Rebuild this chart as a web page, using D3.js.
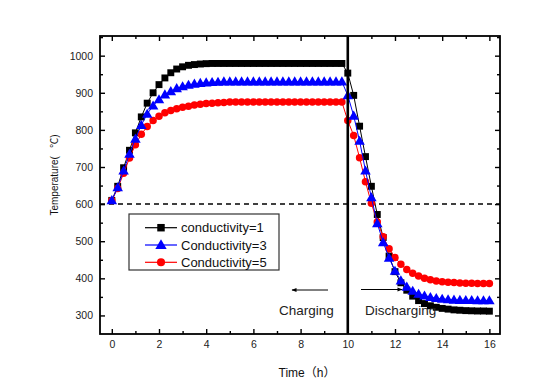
<!DOCTYPE html>
<html>
<head>
<meta charset="utf-8">
<script src="https://cdn.jsdelivr.net/npm/d3@7"></script>
<style>
html,body{margin:0;padding:0;background:#fff;}
svg{display:block;font-family:"Liberation Sans",Arial,"Noto Sans CJK SC",sans-serif;}
</style>
</head>
<body>
<svg id="chart" width="558" height="391"></svg>
<script>
// ---- data ----
const times = [0,0.25,0.5,0.75,1,1.25,1.5,1.75,2,2.25,2.5,2.75,3,3.25,3.5,3.75,4,4.25,4.5,4.75,
  5,5.25,5.5,5.75,6,6.25,6.5,6.75,7,7.25,7.5,7.75,8,8.25,8.5,8.75,9,9.25,9.5,9.75,
  10,10.25,10.5,10.75,11,11.25,11.5,11.75,12,12.25,12.5,12.75,13,13.25,13.5,13.75,14,14.25,14.5,14.75,
  15,15.25,15.5,15.75,16];
const cond1 = [610,648,698,745,792,835,872,900,922,940,954,964,970,974,976,977.5,978.5,979,979,979,
  979,979,979,979,979,979,979,979,979,979,979,979,979,979,979,979,979,979,979,979,
  953,893,810,728,648,572,510,460,418,388,368,352,340,332,326,322,319,317,315,314,
  313,312.5,312,312,311.5];
const cond3 = [610,645,690,735,776,813,843,865,882,895,904,912,917,921,924,926,927.5,928.5,929,930,
  930,930,930,930,930,930,930,930,930,930,930,930,930,930,930,930,930,930,930,930,
  893,838,770,690,618,548,497,455,420,394,377,366,358,353,349,346.5,344.5,343,342,341.5,
  341,341,340.5,340.5,340.5];
const cond5 = [610,642,683,724,760,788,809,825,837,846,852,857,861,864,867,869,871,872,873,874,
  875,875,875,875,875,875,875,875,875,875,875,875,875,875,875,875,875,875,875,875,
  825,785,725,660,602,552,512,480,456,438,424,414,406,400,396,393,391,389.5,388.5,387.5,
  387,386.5,386,386,386];
const seriesNames = ["conductivity=1","Conductivity=3","Conductivity=5"];
const xTicks = [0,2,4,6,8,10,12,14,16];
const xMinor = [1,3,5,7,9,11,13,15];
const yTicks = [300,400,500,600,700,800,900,1000];
const yMinor = [350,450,550,650,750,850,950,1050];
const thresholdTemp = 600;
const switchTime = 10;

// ---- setup ----
const svg = d3.select("#chart");
const x = d3.scaleLinear().domain([-0.5,16.45]).range([100,500]);
const y = d3.scaleLinear().domain([250,1053]).range([334,36]);

const series = [
  {name:seriesNames[0], vals:cond1, color:"#000000", shape:"square"},
  {name:seriesNames[2], vals:cond5, color:"#ff0000", shape:"circle"},
  {name:seriesNames[1], vals:cond3, color:"#0000ff", shape:"triangle"}
];
const symType = {square:d3.symbolSquare, circle:d3.symbolCircle, triangle:d3.symbolTriangle};
const symSize = {square:48, circle:44, triangle:48};

// dashed line at 600
svg.append("line")
  .attr("x1",x.range()[0]).attr("x2",x.range()[1])
  .attr("y1",y(thresholdTemp)).attr("y2",y(thresholdTemp))
  .attr("stroke","#000").attr("stroke-width",1.5).attr("stroke-dasharray","5,4");

// series
const line = d3.line().x((d,i)=>x(times[i])).y(d=>y(d));
series.forEach(s=>{
  const g = svg.append("g");
  g.append("path").datum(s.vals).attr("d",line)
    .attr("fill","none").attr("stroke",s.color).attr("stroke-width",1);
  g.selectAll("path.m").data(s.vals).enter().append("path").attr("class","m")
    .attr("transform",(d,i)=>`translate(${x(times[i])},${y(d) + (s.shape==="triangle"?0.8:0)})`)
    .attr("d",d3.symbol().type(symType[s.shape]).size(symSize[s.shape]))
    .attr("fill",s.color);
});

// vertical line at t=10
svg.append("line")
  .attr("x1",x(switchTime)).attr("x2",x(switchTime))
  .attr("y1",y.range()[1]).attr("y2",y.range()[0])
  .attr("stroke","#000").attr("stroke-width",2.6);

// axes
const fontTick = g=>g.selectAll("text").attr("font-size","10.5px").attr("fill","#222")
  .attr("font-family","'Liberation Sans',Arial,sans-serif");
const bottom = svg.append("g").attr("transform",`translate(0,${y.range()[0]})`)
  .call(d3.axisBottom(x).tickValues(xTicks).tickSize(-5).tickPadding(6.5).tickFormat(d3.format("d")));
bottom.call(fontTick);
svg.append("g").attr("transform",`translate(0,${y.range()[0]})`)
  .call(d3.axisBottom(x).tickValues(xMinor).tickSize(-3).tickFormat(""));
svg.append("g").attr("transform",`translate(0,${y.range()[1]})`)
  .call(d3.axisTop(x).tickValues(xTicks).tickSize(-5).tickFormat(""));
svg.append("g").attr("transform",`translate(0,${y.range()[1]})`)
  .call(d3.axisTop(x).tickValues(xMinor).tickSize(-3).tickFormat(""));
const left = svg.append("g").attr("transform",`translate(${x.range()[0]},0)`)
  .call(d3.axisLeft(y).tickValues(yTicks).tickSize(-5).tickPadding(7).tickFormat(d3.format("d")));
left.call(fontTick);
svg.append("g").attr("transform",`translate(${x.range()[0]},0)`)
  .call(d3.axisLeft(y).tickValues(yMinor.filter(v=>v<1053)).tickSize(-3).tickFormat(""));
svg.append("g").attr("transform",`translate(${x.range()[1]},0)`)
  .call(d3.axisRight(y).tickValues(yTicks).tickSize(-5).tickFormat(""));
svg.append("g").attr("transform",`translate(${x.range()[1]},0)`)
  .call(d3.axisRight(y).tickValues(yMinor.filter(v=>v<1053)).tickSize(-3).tickFormat(""));
svg.selectAll(".domain").remove();
svg.selectAll(".tick line").attr("stroke","#000").attr("stroke-width",1.4);

// frame
svg.append("rect")
  .attr("x",x.range()[0]).attr("y",y.range()[1])
  .attr("width",x.range()[1]-x.range()[0]).attr("height",y.range()[0]-y.range()[1])
  .attr("fill","none").attr("stroke","#000").attr("stroke-width",1.8);

// axis titles
svg.append("text").attr("x",307).attr("y",377).attr("text-anchor","middle")
  .attr("font-size","12px").attr("fill","#111").text("Time（h）");
svg.append("text").attr("transform","translate(58,175) rotate(-90)").attr("text-anchor","middle")
  .attr("font-size","10px").attr("fill","#111").style("white-space","pre").text("Temperature(   ℃)");

// legend
const lg = svg.append("g");
lg.append("rect").attr("x",129).attr("y",214).attr("width",150).attr("height",56)
  .attr("fill","#fff").attr("stroke","#333").attr("stroke-width",1.2);
const legendItems = [series[0], series[2], series[1]];
legendItems.forEach((s,i)=>{
  const yy = 227.7 + i*17.3;
  lg.append("line").attr("x1",145).attr("x2",177).attr("y1",yy).attr("y2",yy)
    .attr("stroke",s.color).attr("stroke-width",1.2);
  lg.append("path").attr("transform",`translate(161,${yy + (s.shape==="triangle"?0.8:0)})`)
    .attr("d",d3.symbol().type(symType[s.shape]).size(symSize[s.shape]+8)).attr("fill",s.color);
  lg.append("text").attr("x",181).attr("y",yy+4.6).attr("font-size","13px").attr("fill","#111").text(s.name);
});

// annotations
const defs = svg.append("defs");
defs.append("marker").attr("id","ah").attr("viewBox","0 0 10 10").attr("refX",9).attr("refY",5)
  .attr("markerWidth",7).attr("markerHeight",5).attr("orient","auto-start-reverse")
  .append("path").attr("d","M0,1 L10,5 L0,9 Z").attr("fill","#000");
svg.append("line").attr("x1",328).attr("x2",292).attr("y1",290).attr("y2",290)
  .attr("stroke","#000").attr("stroke-width",1).attr("marker-end","url(#ah)");
svg.append("line").attr("x1",361).attr("x2",402).attr("y1",289.5).attr("y2",289.5)
  .attr("stroke","#000").attr("stroke-width",1).attr("marker-end","url(#ah)");
svg.append("text").attr("x",279).attr("y",314.5).attr("font-size","13.5px").attr("fill","#222").text("Charging");
svg.append("text").attr("x",365).attr("y",314.5).attr("font-size","13.5px").attr("fill","#222").text("Discharging");
</script>
</body>
</html>
